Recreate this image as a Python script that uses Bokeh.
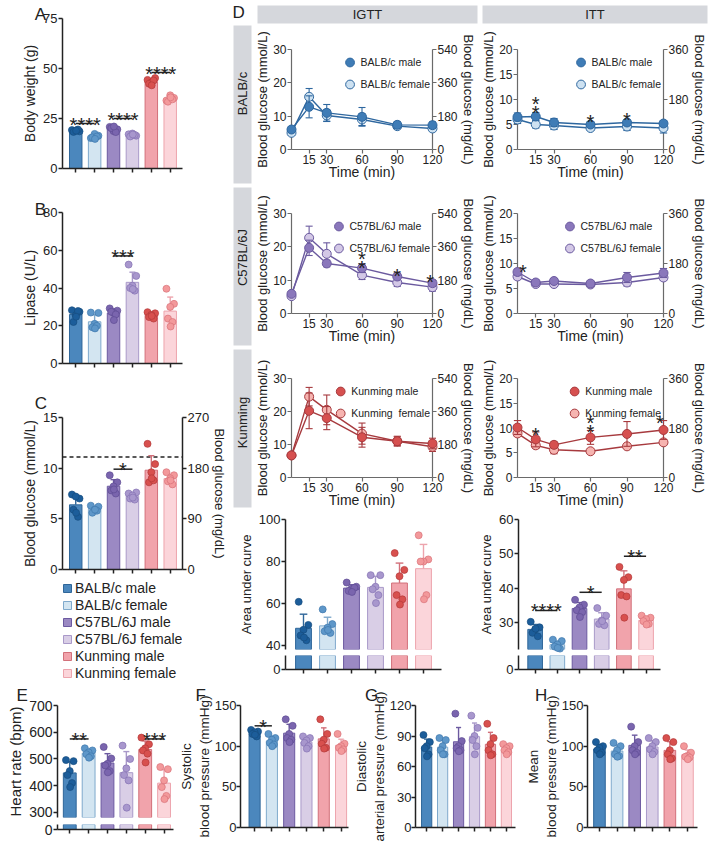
import numpy as np
from bokeh.plotting import figure
from bokeh.models import Range1d, LinearAxis, Legend, LegendItem, Span
from bokeh.layouts import row, column
from bokeh.embed import file_html
from bokeh.resources import INLINE
from bokeh.core.properties import value

FONT = "Liberation Sans"
INK = "#222222"
STRIP = "#d5d7dc"

# ---------------------------------------------------------------- data
groups = ["BALB/c male", "BALB/c female", "C57BL/6J male",
          "C57BL/6J female", "Kunming male", "Kunming female"]

body_weight = [
    [19.2, 18.6, 19.0, 18.3, 19.5, 18.9],
    [15.2, 16.4, 17.3, 15.6, 16.0, 14.8],
    [20.8, 19.6, 18.7, 20.2, 18.2, 21.0],
    [17.1, 16.4, 17.5, 16.0, 16.8, 17.0],
    [44.3, 45.2, 43.0, 42.4, 44.0, 41.6],
    [34.0, 35.3, 36.6, 33.4, 34.6, 35.6],
]
lipase = [
    [28.2, 27.4, 25.6, 22.0, 27.8, 24.8],
    [27.0, 26.8, 21.0, 19.2, 20.0, 18.6],
    [29.2, 28.0, 26.8, 27.4, 26.0, 23.0],
    [52.4, 46.4, 41.2, 40.0, 38.6, 39.4],
    [27.2, 26.6, 25.8, 24.6, 23.8, 25.2],
    [39.6, 31.6, 30.0, 23.8, 22.0, 19.6],
]
fasting_glucose = [
    [7.4, 7.0, 7.2, 5.9, 5.2, 5.6],
    [6.3, 6.2, 5.9, 5.6, 5.8, 5.9],
    [9.3, 8.6, 8.2, 7.8, 7.5, 7.9],
    [7.5, 7.6, 7.3, 7.0, 6.9, 7.1],
    [12.4, 10.4, 9.6, 8.6, 8.8, 9.0],
    [9.6, 9.3, 9.0, 8.7, 8.4, 8.8],
]
glucose_threshold = 11.1
igtt_auc = [
    [60.8, 49.8, 47.5, 44.8, 42.5, 43.8],
    [57.2, 50.2, 48.5, 46.8, 46.0, 47.4],
    [70.0, 68.0, 67.0, 66.0, 67.5, 65.5],
    [73.5, 73.5, 68.0, 66.8, 64.0, 60.2],
    [84.0, 76.0, 73.0, 64.0, 62.0, 59.5],
    [92.5, 81.0, 80.0, 80.0, 64.0, 62.0],
]
itt_auc = [
    [30.2, 28.6, 28.0, 27.0, 26.0, 28.2],
    [25.0, 24.6, 23.6, 23.0, 22.4, 22.6],
    [36.6, 35.2, 34.4, 33.6, 33.0, 31.6],
    [34.2, 32.0, 30.6, 29.6, 29.2, 30.4],
    [46.2, 43.2, 42.4, 38.0, 37.6, 31.4],
    [32.0, 31.4, 31.0, 30.4, 29.6, 29.4],
]
heart_rate = [
    [496, 492, 455, 440, 410, 395],
    [540, 532, 525, 518, 510, 505],
    [545, 502, 482, 476, 455, 450],
    [550, 500, 465, 440, 420, 318],
    [580, 555, 540, 532, 520, 487],
    [470, 462, 420, 395, 362, 350],
]
systolic_bp = [
    [120, 118, 117, 115, 112, 114],
    [115, 110, 108, 104, 102, 100],
    [133, 125, 115, 110, 108, 105],
    [112, 110, 107, 104, 100, 97],
    [133, 115, 108, 103, 98, 97],
    [115, 103, 100, 98, 96, 94],
]
diastolic_bp = [
    [91, 84, 80, 78, 72, 70],
    [88, 86, 80, 76, 72, 72],
    [112, 85, 80, 78, 76, 75],
    [110, 98, 90, 86, 80, 72],
    [102, 88, 82, 76, 72, 71],
    [82, 80, 78, 76, 74, 72],
]
mean_bp = [
    [105, 100, 98, 95, 92, 90],
    [104, 100, 95, 90, 88, 87],
    [124, 105, 100, 95, 92, 90],
    [110, 105, 100, 96, 93, 90],
    [110, 105, 95, 90, 85, 84],
    [100, 92, 88, 87, 86, 84],
]

# significance: (group a, group b, stars, bracket height)
body_weight_sig = [(1, 2, "****", 22.5), (3, 4, "****", 25.0), (5, 6, "****", 48.0)]
lipase_sig = [(3, 4, "***", 57.0)]
glucose_sig = [(3, 4, "*", 9.9)]
itt_auc_sig = [(1, 2, "****", 33.5), (3, 4, "*", 38.8), (5, 6, "**", 49.3)]
heart_rate_sig = [(1, 2, "**", 575), (5, 6, "***", 575)]
systolic_sig = [(1, 2, "*", 125)]

time_min = [0, 15, 30, 60, 90, 120]

igtt_balbc_male = [6.0, 12.8, 11.0, 9.8, 7.4, 7.3]
igtt_balbc_male_sd = [0.8, 3.3, 2.5, 2.8, 1.0, 1.0]
igtt_balbc_female = [5.0, 15.8, 10.2, 9.0, 7.0, 6.3]
igtt_balbc_female_sd = [0.6, 2.5, 1.8, 1.8, 0.8, 0.8]
itt_balbc_male = [6.5, 6.6, 5.4, 5.0, 5.4, 5.2]
itt_balbc_male_sd = [0.8, 0.8, 0.8, 0.5, 0.6, 0.5]
itt_balbc_female = [6.0, 5.0, 4.8, 4.3, 4.6, 4.3]
itt_balbc_female_sd = [0.8, 0.7, 0.8, 0.4, 0.8, 1.0]

igtt_c57_male = [5.9, 19.7, 15.0, 13.6, 11.1, 9.1]
igtt_c57_male_sd = [0.6, 2.3, 1.0, 1.3, 1.0, 1.0]
igtt_c57_female = [5.2, 22.7, 17.9, 11.5, 9.3, 7.9]
igtt_c57_female_sd = [0.6, 3.5, 3.3, 1.3, 1.2, 1.2]
itt_c57_male = [8.3, 6.2, 6.5, 6.0, 7.2, 8.1]
itt_c57_male_sd = [0.6, 0.5, 0.5, 0.4, 1.0, 0.9]
itt_c57_female = [7.4, 5.9, 5.9, 5.8, 6.2, 7.2]
itt_c57_female_sd = [0.6, 0.4, 0.4, 0.4, 0.7, 0.6]

igtt_km_male = [6.7, 20.2, 18.0, 12.2, 11.0, 10.3]
igtt_km_male_sd = [0.8, 5.4, 3.5, 3.0, 1.5, 1.6]
igtt_km_female = [6.7, 24.5, 20.5, 13.3, 11.0, 9.3]
igtt_km_female_sd = [0.8, 2.8, 4.5, 3.2, 1.3, 1.4]
itt_km_male = [10.1, 7.7, 6.6, 8.1, 8.8, 9.6]
itt_km_male_sd = [1.4, 1.5, 0.6, 1.4, 2.5, 1.9]
itt_km_female = [8.9, 6.5, 5.6, 5.3, 6.3, 7.1]
itt_km_female_sd = [0.6, 0.6, 0.8, 0.4, 0.4, 0.5]

# stars on time courses: (time, centre height of lowest star, number stacked)
itt_balbc_stars = [(15, 8.7, 2), (60, 6.9, 1), (90, 7.4, 1)]
igtt_c57_stars = [(60, 15.7, 2), (90, 13.5, 1), (118, 11.5, 1)]
itt_c57_stars = [(4.5, 9.7, 1)]
itt_km_stars = [(15, 10.1, 1), (60, 10.6, 2), (117, 12.4, 1)]

# ---------------------------------------------------------------- styles
bar_fill = ["#4b87bd", "#d3e5f1", "#9b89c3", "#d9cee6", "#f1a3ab", "#fbd5da"]
bar_line = ["#2f6699", "#7fa9cc", "#6c5aa0", "#a999c9", "#d2707a", "#eda4ad"]
dot_fill = ["#1c5d9a", "#5e97c9", "#7a65ae", "#a897cd", "#d8504e", "#f3999b"]
dot_line = ["#174d80", "#3f78ad", "#5f4c94", "#8573b3", "#b33a3a", "#d9737a"]
JITTER = [-0.2, 0.2, 0.0, -0.12, 0.12, 0.02]

pal_balbc = ("#2e679f", "#3f7cb6", "#cde1f1")
pal_c57 = ("#6b5a9f", "#8a77bb", "#d3c8e6")
pal_km = ("#a73a3e", "#d6504f", "#f6b4b0")

FRAMES = {}


def style_axis(ax, tick_size="13px", label_size="14px", color=INK, lw=1.5,
               label_standoff=2, tick_standoff=1):
    ax.axis_line_color = color
    ax.axis_line_width = lw
    ax.major_tick_line_color = color
    ax.major_tick_line_width = lw
    ax.major_tick_out = 4
    ax.major_tick_in = 0
    ax.minor_tick_line_color = None
    ax.minor_tick_out = 0
    ax.minor_tick_in = 0
    ax.major_label_text_font = FONT
    ax.major_label_text_font_size = tick_size
    ax.major_label_text_color = INK
    ax.major_label_standoff = tick_standoff
    ax.axis_label_text_font = FONT
    ax.axis_label_text_font_size = label_size
    ax.axis_label_text_font_style = "normal"
    ax.axis_label_text_color = INK
    ax.axis_label_standoff = label_standoff


def base_fig(width, height, left, right, top, bottom, xr, yr, x_axis=True, y_axis=True):
    p = figure(width=width, height=height, x_range=xr, y_range=yr,
               output_backend="svg", toolbar_location=None,
               x_axis_location="below" if x_axis else None,
               y_axis_location="left" if y_axis else None,
               min_border_left=left, min_border_right=right,
               min_border_top=top, min_border_bottom=bottom)
    p.outline_line_color = None
    p.background_fill_color = "white"
    p.border_fill_color = "white"
    p.grid.visible = False
    FRAMES[id(p)] = (left, top, width - left - right, height - top - bottom,
                     xr.start, xr.end, yr.start, yr.end)
    return p


def letter(p, cx, cy, t):
    """Panel letter with its top-left corner at canvas pixel (cx, cy)."""
    left, top, fw, fh, x0, x1, y0, y1 = FRAMES[id(p)]
    xd = x0 + (cx - left) * (x1 - x0) / fw
    yd = y1 - (cy - top) * (y1 - y0) / fh
    p.text(x=[xd], y=[yd], text=[t], text_align="left", text_baseline="top",
           text_font=value(FONT), text_font_size="17px", text_color=INK,
           level="overlay")


def bar_fig(vals, yr, yticks, ylabel, width, height, left, right, top, bottom,
            xr=(0.3, 6.7), x_axis=True, marks=True, bar_w=0.66, cap=0.16,
            tick_size="13px", label_size="14px", tick_standoff=1, label_standoff=2):
    p = base_fig(width, height, left, right, top, bottom,
                 Range1d(*xr), Range1d(*yr), x_axis=x_axis)
    xs = np.arange(1, 7)
    means = np.array([np.mean(v) for v in vals])
    sds = np.array([np.std(v, ddof=1) for v in vals])
    p.vbar(x=xs, top=means, bottom=0, width=bar_w, fill_color=bar_fill,
           line_color=bar_line, line_width=1)
    if marks:
        up = means + sds
        p.segment(x0=xs, y0=means, x1=xs, y1=up, line_color=bar_line,
                  line_width=1.4, level="overlay")
        p.segment(x0=xs - cap, y0=up, x1=xs + cap, y1=up, line_color=bar_line,
                  line_width=1.4, level="overlay")
        dx, dy, fc, lc = [], [], [], []
        for g, v in enumerate(vals):
            for k, val in enumerate(v):
                dx.append(g + 1 + JITTER[k])
                dy.append(val)
                fc.append(dot_fill[g])
                lc.append(dot_line[g])
        p.scatter(dx, dy, size=7, fill_color=fc, line_color=lc, line_width=0.7,
                  level="overlay")
    p.yaxis.ticker = yticks
    p.yaxis.axis_label = ylabel
    style_axis(p.yaxis[0], tick_size, label_size, tick_standoff=tick_standoff,
               label_standoff=label_standoff)
    if x_axis:
        p.xaxis.ticker = [int(i) for i in xs]
        p.xaxis.major_label_overrides = {int(i): "" for i in xs}
        style_axis(p.xaxis[0], "0px", "0px")
    return p


def draw_sig(p, sig):
    for a, b, txt, y in sig:
        p.segment(x0=[a], x1=[b], y0=[y], y1=[y], line_color=INK, line_width=1.5,
                  level="overlay")
        p.text(x=[(a + b) / 2], y=[y], text=[txt], text_align="center",
               text_baseline="alphabetic", y_offset=1, text_font=value(FONT),
               text_font_size="20px", text_color=INK, level="overlay")


def line_fig(ymax, yticks, male, male_sd, female, female_sd, stars, pal, names,
             width, height, left, right, top, bottom):
    line_c, male_fill, female_fill = pal
    p = base_fig(width, height, left, right, top, bottom,
                 Range1d(0, 120), Range1d(0, ymax))
    axc = "#6a6a6a"
    p.yaxis.ticker = yticks
    p.yaxis.axis_label = "Blood glucose (mmol/L)"
    style_axis(p.yaxis[0], "12px", "13px", color=axc, lw=1.2, label_standoff=0)
    p.xaxis.ticker = [15, 30, 60, 90, 120]
    p.xaxis.axis_label = "Time (min)"
    style_axis(p.xaxis[0], "12px", "14px", color=axc, lw=1.2, label_standoff=-3)
    p.extra_y_ranges = {"mg": Range1d(0, ymax * 18)}
    rax = LinearAxis(y_range_name="mg", ticker=[0, 180, 360, 540],
                     axis_label="Blood glucose (mg/dL)")
    style_axis(rax, "12px", "13px", color=axc, lw=1.2, label_standoff=0)
    p.add_layout(rax, "right")

    t = np.array(time_min, dtype=float)
    rends = {}
    for key, m, sd, fill in (("f", female, female_sd, female_fill),
                             ("m", male, male_sd, male_fill)):
        m = np.array(m)
        sd = np.array(sd)
        p.segment(x0=t, y0=m - sd, x1=t, y1=m + sd, line_color=line_c,
                  line_width=1.1, level="overlay")
        p.segment(x0=t - 3, y0=m + sd, x1=t + 3, y1=m + sd, line_color=line_c,
                  line_width=1.1, level="overlay")
        p.segment(x0=t - 3, y0=m - sd, x1=t + 3, y1=m - sd, line_color=line_c,
                  line_width=1.1, level="overlay")
        p.line(t, m, line_color=line_c, line_width=1.4, level="overlay")
        rends[key] = p.scatter(t, m, size=9, fill_color=fill, line_color=line_c,
                               line_width=1, level="overlay")
    for tt, yy, n in stars:
        for k in range(n):
            p.text(x=[tt], y=[yy], text=["*"], text_align="center",
                   text_baseline="alphabetic", y_offset=7 - 9 * k,
                   text_font=value(FONT), text_font_size="20px", text_color=INK,
                   level="overlay")
    leg = Legend(items=[LegendItem(label=names[0], renderers=[rends["m"]]),
                        LegendItem(label=names[1], renderers=[rends["f"]])],
                 location="top_right", margin=2, padding=0, spacing=-9,
                 glyph_width=22, glyph_height=22, label_standoff=-6,
                 label_text_font=FONT, label_text_font_size="10.5px",
                 label_text_color=INK, border_line_color=None,
                 background_fill_alpha=0)
    p.add_layout(leg)
    return p


def strip_fig(name, width, height, text_y):
    p = base_fig(width, height, 0, 0, 0, 0, Range1d(0, width), Range1d(0, height),
                 x_axis=False, y_axis=False)
    p.quad(left=[3], right=[width - 1], bottom=[3], top=[height - 1],
           fill_color=STRIP, line_color=None)
    p.text(x=[(width + 2) / 2], y=[text_y], text=[name], angle=np.pi / 2,
           text_align="center", text_baseline="middle", text_font=value(FONT),
           text_font_size="13px", text_color=INK)
    return p


# ---------------------------------------------------------------- left column
figA = bar_fig(body_weight, (0, 75), [0, 25, 50, 75], "Body weight (g)",
               230, 175, 38, 40, 18, 7, xr=(0.3, 6.65))
draw_sig(figA, body_weight_sig)
letter(figA, 3, 4, "A")

figB = bar_fig(lipase, (0, 80), [0, 20, 40, 60, 80], "Lipase (U/L)",
               230, 195, 38, 40, 37, 7, xr=(0.3, 6.65))
draw_sig(figB, lipase_sig)
letter(figB, 3, 24, "B")

figC = bar_fig(fasting_glucose, (0, 15), [0, 5, 10, 15], "Blood glucose (mmol/L)",
               230, 208, 38, 40, 47, 9, xr=(0.3, 6.65))
figC.extra_y_ranges = {"mg": Range1d(0, 270)}
cax = LinearAxis(y_range_name="mg", ticker=[0, 90, 180, 270],
                 axis_label="Blood glucose (mg/dL)")
style_axis(cax, "13px", "13px", label_standoff=0)
figC.add_layout(cax, "right")
figC.add_layout(Span(location=glucose_threshold, dimension="width", line_color=INK,
                     line_width=1.5, line_dash="4 3"))
draw_sig(figC, glucose_sig)
letter(figC, 3, 23, "C")

figLeg = base_fig(230, 102, 62, 0, 2, 0, Range1d(0, 1), Range1d(0, 1),
                  x_axis=False, y_axis=False)
leg_items = []
for g in range(6):
    r = figLeg.vbar(x=[-10], top=[0], width=0.5, fill_color=bar_fill[g],
                    line_color=bar_line[g])
    leg_items.append(LegendItem(label=groups[g], renderers=[r]))
figLeg.add_layout(Legend(items=leg_items, location="top_left", margin=0, padding=0,
                         spacing=1, glyph_width=10, glyph_height=10, label_standoff=3,
                         label_text_font=FONT, label_text_font_size="14px",
                         label_text_color=INK, border_line_color=None,
                         background_fill_alpha=0))

left_col = column(figA, figB, figC, figLeg)

# ---------------------------------------------------------------- right column (D)
hdr = base_fig(479, 24, 0, 0, 0, 0, Range1d(0, 479), Range1d(0, 24),
               x_axis=False, y_axis=False)
hdr.quad(left=[27, 252], right=[247, 477], bottom=[1, 1], top=[19, 19],
         fill_color=STRIP, line_color=None)
hdr.text(x=[137, 364.5], y=[10, 10], text=["IGTT", "ITT"], text_align="center",
         text_baseline="middle", text_font=value(FONT), text_font_size="13px",
         text_color=INK)
hdr.text(x=[2], y=[12], text=["D"], text_align="left", text_baseline="middle",
         text_font=value(FONT), text_font_size="17px", text_color=INK)

RH = 162
row_tops = [25, 27, 30]
strain_rows = [
    ("BALB/c", igtt_balbc_male, igtt_balbc_male_sd, igtt_balbc_female, igtt_balbc_female_sd,
     itt_balbc_male, itt_balbc_male_sd, itt_balbc_female, itt_balbc_female_sd,
     [], itt_balbc_stars, pal_balbc, ("BALB/c male", "BALB/c female"),
     ("BALB/c male", "BALB/c female")),
    ("C57BL/6J", igtt_c57_male, igtt_c57_male_sd, igtt_c57_female, igtt_c57_female_sd,
     itt_c57_male, itt_c57_male_sd, itt_c57_female, itt_c57_female_sd,
     igtt_c57_stars, itt_c57_stars, pal_c57, ("C57BL/6J male", "C57BL/6J female"),
     ("C57BL/6J male", "C57BL/6J female")),
    ("Kunming", igtt_km_male, igtt_km_male_sd, igtt_km_female, igtt_km_female_sd,
     itt_km_male, itt_km_male_sd, itt_km_female, itt_km_female_sd,
     [], itt_km_stars, pal_km, ("Kunming male", "Kunming  female"),
     ("Kunming male", "Kunming female")),
]
strips, chart_rows = [], []
for (name, gm, gms, gf, gfs, im, ims, if_, ifs, gst, ist, pal, gnames, inames), top in zip(strain_rows, row_tops):
    bottom = RH - top - 100
    strips.append(strip_fig(name, 22, RH, RH - (top + 50 - 6)))
    g = line_fig(30, [0, 10, 20, 30], gm, gms, gf, gfs, gst, pal, gnames,
                 226, RH, 35, 40, top, bottom)
    i = line_fig(20, [0, 5, 10, 15, 20], im, ims, if_, ifs, ist, pal, inames,
                 231, RH, 34, 46, top, bottom)
    chart_rows.append(row(g, i))
d_block = row(column(*strips), column(*chart_rows))

aucL_top = bar_fig(igtt_auc, (38.1, 100), [40, 60, 80, 100], "Area under curve",
                   246, 143, 55, 35, 9, 4, xr=(0.25, 6.75), x_axis=False,
                   label_size="13px")
aucL_bot = bar_fig(igtt_auc, (0, 5), [0], "", 246, 27, 55, 35, 2, 11,
                   xr=(0.25, 6.75), marks=False)
aucR_top = bar_fig(itt_auc, (22.14, 60), [30, 40, 50, 60], "Area under curve",
                   233, 143, 34, 49, 9, 4, xr=(0.25, 6.65), x_axis=False,
                   label_size="13px")
draw_sig(aucR_top, itt_auc_sig)
aucR_bot = bar_fig(itt_auc, (0, 5), [0], "", 233, 27, 34, 49, 2, 11,
                   xr=(0.25, 6.65), marks=False)
auc_row = row(column(aucL_top, aucL_bot), column(aucR_top, aucR_bot))

right_col = column(hdr, d_block, auc_row)

# ---------------------------------------------------------------- bottom row
E_top = bar_fig(heart_rate, (281.3, 700), [300, 400, 500, 600, 700], "Heart rate (bpm)",
                175, 140, 57, 2, 25, 3, xr=(0.35, 6.5), x_axis=False, bar_w=0.68,
                tick_size="14px", label_size="15px")
draw_sig(E_top, heart_rate_sig)
letter(E_top, 16, 5, "E")
E_bot = bar_fig(heart_rate, (0, 30), [0], "", 175, 32, 57, 2, 4, 23,
                xr=(0.35, 6.5), marks=False, bar_w=0.68, tick_size="14px")

BP_LABEL = "13.5px"
figF = bar_fig(systolic_bp, (0, 150), [0, 50, 100, 150], "Systolic\nblood pressure (mmHg)",
               175, 172, 60, 2, 25, 25, xr=(0.185, 6.43), bar_w=0.64,
               tick_size="13px", label_size=BP_LABEL, tick_standoff=0, label_standoff=0)
draw_sig(figF, systolic_sig)
letter(figF, 13, 5, "F")

figG = bar_fig(diastolic_bp, (0, 120), [0, 30, 60, 90, 120],
               "Diastolic\narterial pressure (mmHg)",
               172, 172, 60, 7, 25, 25, xr=(0.3, 6.57), bar_w=0.64,
               tick_size="13px", label_size=BP_LABEL, tick_standoff=0, label_standoff=0)
letter(figG, 7, 5, "G")

figH = bar_fig(mean_bp, (0, 150), [0, 50, 100, 150], "Mean\nblood pressure (mmHg)",
               187, 172, 60, 12, 25, 25, xr=(0.32, 6.57), bar_w=0.66,
               tick_size="13px", label_size=BP_LABEL, tick_standoff=0, label_standoff=0)
letter(figH, 5, 5, "H")

bottom_row = row(column(E_top, E_bot), figF, figG, figH)

page = column(row(left_col, right_col), bottom_row)
open("out.html", "w").write(file_html(page, INLINE, title="Strain comparison"))
